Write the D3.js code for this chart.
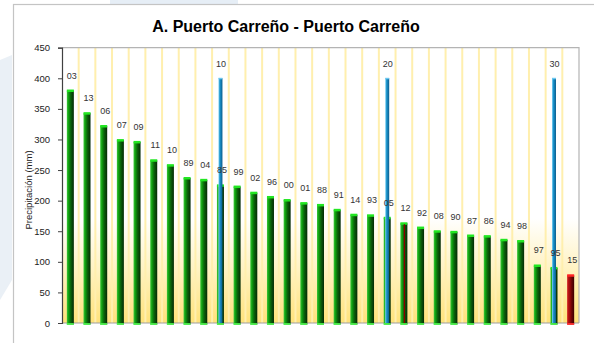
<!DOCTYPE html>
<html>
<head>
<meta charset="utf-8">
<script src="https://cdn.jsdelivr.net/npm/d3@7"></script>
<style>
  html, body { margin: 0; padding: 0; background: #ffffff; }
  svg { display: block; font-family: "Liberation Sans", Arial, sans-serif; }
</style>
</head>
<body>
<svg id="chart" width="594" height="343"></svg>
<script>
// Años ordenados por precipitación (etiqueta de dos dígitos)
const anios = ["03","13","06","07","09","11","10","89","04","85","99","02","96","00","01","88","91","14","93","05","12","92","08","90","87","86","94","98","97","95","15"];
// Precipitación (mm) de cada año
const precipitacion = [380,343,322,299,296,266,258,237,234,225,223,213,206,201,196,193,185,177,176,172,163,156,150,149,143,142,136,134,94,90,78];
// Año en curso, resaltado en rojo
const anioActual = "15";
// Año marcado con una línea roja
const anioMarcado = "12";
// Marcas de posición (cada 10 años)
const posiciones = ["85","05","95"];
const posicionEtiquetas = ["10","20","30"];
const posicionValor = [400,400,400];
// Ticks del eje Y
const yTicks = [0,50,100,150,200,250,300,350,400,450];

const svg = d3.select("#chart");
const W = 594, H = 343;
const m = { left: 62, right: 579, top: 47.7, bottom: 323 };

const defs = svg.append("defs");

// Fondo del área de trazado: blanco arriba, amarillo abajo
const bg = defs.append("linearGradient").attr("id","bgGrad").attr("x1",0).attr("y1",0).attr("x2",0).attr("y2",1);
bg.append("stop").attr("offset","0%").attr("stop-color","#ffffff");
bg.append("stop").attr("offset","62%").attr("stop-color","#ffffff");
bg.append("stop").attr("offset","80%").attr("stop-color","#fff3c4");
bg.append("stop").attr("offset","100%").attr("stop-color","#ffe27a");

function hGrad(id, stops) {
  const g = defs.append("linearGradient").attr("id", id).attr("x1",0).attr("y1",0).attr("x2",1).attr("y2",0);
  stops.forEach(([o,c]) => g.append("stop").attr("offset", o).attr("stop-color", c));
}
hGrad("gGreen", [["0%","#3cc83c"],["25%","#10a010"],["55%","#0b620b"],["100%","#052a05"]]);
hGrad("gRed",   [["0%","#d01c1c"],["35%","#a00c0c"],["65%","#6a0404"],["100%","#3a0000"]]);
hGrad("gBlue",  [["0%","#8ad6f4"],["35%","#1c94cc"],["100%","#0a5c8c"]]);

// Marca de agua tenue detrás del marco
svg.append("path")
  .attr("d","M0,60 L12,55 L12,280 L0,300 Z")
  .attr("fill","#eaf0f6");
svg.append("rect").attr("x",110).attr("y",0).attr("width",128).attr("height",4).attr("fill","#e6eef6");

// Marco del gráfico
svg.append("rect")
  .attr("x",13.5).attr("y",4.5).attr("width",W).attr("height",H)
  .attr("fill","#ffffff").attr("stroke","#c4c4c4").attr("stroke-width",1.2);

// Título
svg.append("text")
  .attr("x",286).attr("y",32)
  .attr("text-anchor","middle")
  .attr("font-size","16px").attr("font-weight","bold").attr("fill","#000")
  .text("A. Puerto Carreño - Puerto Carreño");

const x = d3.scaleBand().domain(anios).range([m.left, m.right]).padding(0);
const y = d3.scaleLinear().domain([0,450]).range([m.bottom, m.top]);

// Área de trazado
svg.append("rect")
  .attr("x",m.left).attr("y",m.top)
  .attr("width",m.right-m.left).attr("height",m.bottom-m.top)
  .attr("fill","url(#bgGrad)");

// Líneas verticales entre categorías
svg.append("g").selectAll("line")
  .data(anios.slice(1))
  .join("line")
  .attr("x1", d => x(d)).attr("x2", d => x(d))
  .attr("y1", m.top).attr("y2", m.bottom)
  .attr("stroke","#ffefae").attr("stroke-width",2);

// Borde superior y derecho
svg.append("path")
  .attr("d", `M${m.left},${m.top}H${m.right}V${m.bottom}`)
  .attr("fill","none").attr("stroke","#b4b4b4").attr("stroke-width",1.2);

// Eje X (línea base)
svg.append("line")
  .attr("x1",m.left).attr("x2",m.right).attr("y1",m.bottom).attr("y2",m.bottom)
  .attr("stroke","#a0a0a0").attr("stroke-width",1.2);

// Barras de precipitación
const datos = anios.map((a,i) => ({ anio: a, valor: precipitacion[i] }));
const bw = 7;
const barras = svg.append("g");
datos.forEach(d => {
  const cx = x(d.anio) + x.bandwidth()/2;
  const actual = d.anio === anioActual;
  const top = y(d.valor);
  // cuerpo
  barras.append("rect")
    .attr("x", cx - bw/2).attr("y", top)
    .attr("width", bw).attr("height", y(0) - top + 1.5)
    .attr("fill", actual ? "url(#gRed)" : "url(#gGreen)");
  // tapa superior
  barras.append("rect")
    .attr("x", cx - bw/2).attr("y", top - 1)
    .attr("width", bw).attr("height", 2.5)
    .attr("fill", actual ? "#ff2424" : "#22e622");
  // base
  barras.append("rect")
    .attr("x", cx - bw/2).attr("y", y(0))
    .attr("width", bw).attr("height", 2)
    .attr("fill", actual ? "#ff3030" : "#4cf04c").attr("opacity",0.9);
  if (d.anio === anioMarcado) {
    barras.append("line")
      .attr("x1", cx + 0.5).attr("x2", cx + 0.5)
      .attr("y1", top + 1).attr("y2", y(0))
      .attr("stroke","#8a0000").attr("stroke-width",1.3);
  }
});

// Marcas de posición (azul)
const bwB = 4;
posiciones.forEach((p,i) => {
  const cx = x(p) + x.bandwidth()/2;
  const top = y(posicionValor[i]);
  svg.append("rect")
    .attr("x", cx - bwB/2).attr("y", top)
    .attr("width", bwB).attr("height", y(0) - top)
    .attr("fill","url(#gBlue)");
  svg.append("rect")
    .attr("x", cx - bwB/2).attr("y", top - 0.5)
    .attr("width", bwB).attr("height", 1.5)
    .attr("fill","#6cc8f0");
});

// Etiquetas de valor (años)
svg.append("g").selectAll("text")
  .data(datos)
  .join("text")
  .attr("x", d => x(d.anio) + x.bandwidth()/2 + 1.5)
  .attr("y", d => y(d.valor) - 12)
  .attr("text-anchor","middle")
  .attr("font-size","9px").attr("fill","#333")
  .text(d => d.anio);

svg.append("g").selectAll("text")
  .data(posiciones)
  .join("text")
  .attr("x", d => x(d) + x.bandwidth()/2 + 0.5)
  .attr("y", (d,i) => y(posicionValor[i]) - 11)
  .attr("text-anchor","middle")
  .attr("font-size","9px").attr("fill","#333")
  .text((d,i) => posicionEtiquetas[i]);

// Eje Y
const yAxis = d3.axisLeft(y).tickValues(yTicks).tickSize(4).tickPadding(8);
const gy = svg.append("g").attr("transform",`translate(${m.left},0)`).call(yAxis);
gy.select(".domain").attr("stroke","#404040").attr("stroke-width",1.2);
gy.selectAll(".tick line").attr("stroke","#404040");
gy.selectAll(".tick text").attr("font-size","9.5px").attr("fill","#222")
  .attr("font-family","'Liberation Sans', Arial, sans-serif");

// Título del eje Y
svg.append("text")
  .attr("transform", `translate(31.5,190) rotate(-90)`)
  .attr("text-anchor","middle")
  .attr("font-size","9.5px").attr("fill","#222")
  .text("Precipitación (mm)");
</script>
</body>
</html>
